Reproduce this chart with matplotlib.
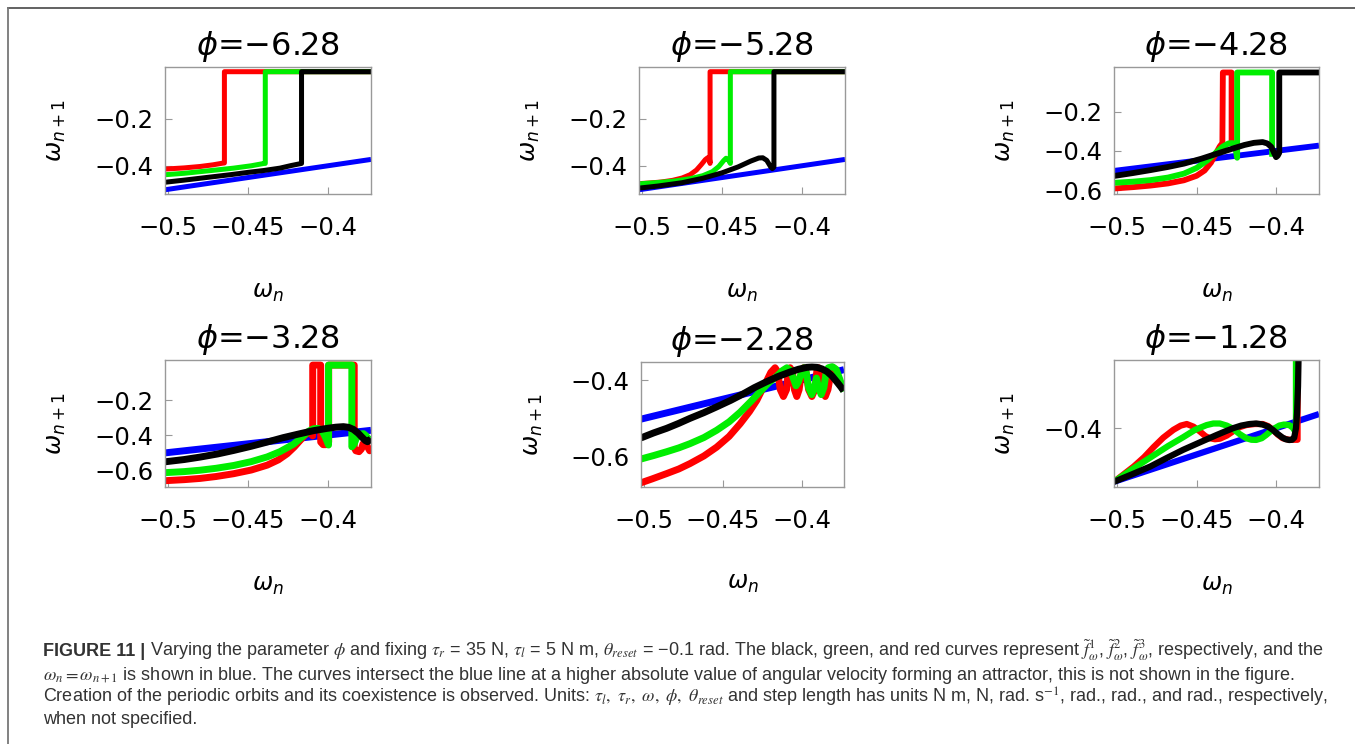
import matplotlib
matplotlib.use('Agg')
import matplotlib.pyplot as plt
from matplotlib.lines import Line2D

# ---- data (omega_n, omega_n+1) ----
titles = ["−6.28", "−5.28", "−4.28", "−3.28", "−2.28", "−1.28"]
xtick_vals = [-0.5, -0.45, -0.4]
xtick_labels = ["−0.5", "−0.45", "−0.4"]
ytick_vals = [[-0.2, -0.4], [-0.2, -0.4], [-0.2, -0.4, -0.6],
              [-0.2, -0.4, -0.6], [-0.4, -0.6], [-0.4]]
ytick_labels = [["−0.2", "−0.4"], ["−0.2", "−0.4"], ["−0.2", "−0.4", "−0.6"],
                ["−0.2", "−0.4", "−0.6"], ["−0.4", "−0.6"], ["−0.4"]]
blue_line = [-0.502, -0.373]

# phi = -6.28
p1_red = [(-0.502, -0.414), (-0.49, -0.409), (-0.48, -0.403), (-0.472, -0.396),
          (-0.466, -0.389), (-0.4648, -0.388), (-0.4648, 0.0), (-0.373, 0.0)]
p1_green = [(-0.502, -0.438), (-0.49, -0.432), (-0.48, -0.425), (-0.47, -0.418),
            (-0.459, -0.41), (-0.448, -0.4), (-0.44, -0.39), (-0.4392, -0.39),
            (-0.4392, 0.0), (-0.373, 0.0)]
p1_black = [(-0.502, -0.47), (-0.49, -0.461), (-0.48, -0.453), (-0.47, -0.445),
            (-0.46, -0.437), (-0.45, -0.428), (-0.44, -0.42), (-0.43, -0.41),
            (-0.423, -0.399), (-0.4165, -0.39), (-0.4165, 0.0), (-0.373, 0.0)]
# phi = -5.28
p2_red = [(-0.502, -0.476), (-0.495, -0.473), (-0.488, -0.469), (-0.481, -0.462),
          (-0.475, -0.452), (-0.47, -0.438), (-0.466, -0.418), (-0.463, -0.395),
          (-0.4605, -0.374), (-0.459, -0.366), (-0.4578, -0.375), (-0.4575, -0.39),
          (-0.4575, 0.0), (-0.373, 0.0)]
p2_green = [(-0.502, -0.477), (-0.49, -0.471), (-0.48, -0.465), (-0.47, -0.455),
            (-0.462, -0.442), (-0.456, -0.425), (-0.452, -0.403), (-0.449, -0.378),
            (-0.4475, -0.368), (-0.446, -0.375), (-0.4448, -0.39), (-0.4448, 0.0),
            (-0.373, 0.0)]
p2_black = [(-0.502, -0.495), (-0.49, -0.486), (-0.475, -0.472), (-0.462, -0.453),
            (-0.45, -0.43), (-0.44, -0.405), (-0.432, -0.38), (-0.427, -0.367),
            (-0.4245, -0.366), (-0.422, -0.377), (-0.4195, -0.405), (-0.4185, -0.412),
            (-0.4175, -0.405), (-0.4175, 0.0), (-0.373, 0.0)]
# phi = -4.28
p3_red = [(-0.502, -0.592), (-0.49, -0.585), (-0.479, -0.577), (-0.468, -0.566),
          (-0.458, -0.55), (-0.45, -0.527), (-0.445, -0.5), (-0.441, -0.46),
          (-0.438, -0.415), (-0.4355, -0.378), (-0.4338, -0.36), (-0.4335, 0.0),
          (-0.428, 0.0), (-0.428, -0.36)]
p3_green = [(-0.502, -0.563), (-0.49, -0.557), (-0.479, -0.549), (-0.468, -0.536),
            (-0.458, -0.516), (-0.45, -0.487), (-0.443, -0.447), (-0.438, -0.41),
            (-0.4335, -0.378), (-0.43, -0.362), (-0.4275, -0.36), (-0.4255, -0.39),
            (-0.4245, -0.435), (-0.4245, 0.0), (-0.4025, 0.0), (-0.4025, -0.43)]
p3_black = [(-0.502, -0.528), (-0.49, -0.513), (-0.479, -0.498), (-0.468, -0.482),
            (-0.458, -0.465), (-0.447, -0.44), (-0.4375, -0.415), (-0.428, -0.39),
            (-0.42, -0.37), (-0.414, -0.359), (-0.4085, -0.355), (-0.4055, -0.362),
            (-0.403, -0.38), (-0.401, -0.415), (-0.4, -0.432), (-0.399, -0.425),
            (-0.398, -0.41), (-0.398, 0.0), (-0.373, 0.0)]
# phi = -3.28
p4_red = [(-0.502, -0.661), (-0.49, -0.655), (-0.48, -0.648), (-0.47, -0.637),
          (-0.459, -0.621), (-0.448, -0.6), (-0.438, -0.572), (-0.431, -0.542),
          (-0.4255, -0.507), (-0.421, -0.468), (-0.4175, -0.432), (-0.414, -0.398),
          (-0.4115, -0.385), (-0.4095, -0.405), (-0.4095, 0.0), (-0.4045, 0.0),
          (-0.4045, -0.44), (-0.403, -0.455), (-0.401, -0.455), (-0.3995, -0.44),
          (-0.3995, 0.0), (-0.3835, 0.0), (-0.3835, -0.47), (-0.3825, -0.49),
          (-0.3805, -0.495), (-0.379, -0.48), (-0.378, -0.45), (-0.3765, -0.44),
          (-0.375, -0.47), (-0.3738, -0.49), (-0.373, -0.47)]
p4_green = [(-0.502, -0.615), (-0.49, -0.609), (-0.48, -0.601), (-0.47, -0.59),
            (-0.459, -0.574), (-0.448, -0.552), (-0.438, -0.525), (-0.43, -0.495),
            (-0.4215, -0.452), (-0.416, -0.41), (-0.412, -0.378), (-0.409, -0.364),
            (-0.406, -0.362), (-0.4035, -0.378), (-0.4017, -0.41), (-0.3996, -0.457),
            (-0.3996, 0.0), (-0.385, 0.0), (-0.385, -0.467), (-0.3835, -0.45),
            (-0.382, -0.415), (-0.38, -0.395), (-0.3777, -0.392), (-0.376, -0.405),
            (-0.3745, -0.425), (-0.373, -0.43)]
p4_black = [(-0.502, -0.553), (-0.49, -0.54), (-0.48, -0.526), (-0.469, -0.508),
            (-0.459, -0.488), (-0.448, -0.464), (-0.438, -0.44), (-0.428, -0.415),
            (-0.4173, -0.392), (-0.409, -0.375), (-0.4006, -0.362), (-0.395, -0.355),
            (-0.3903, -0.352), (-0.387, -0.356), (-0.384, -0.368), (-0.381, -0.39),
            (-0.3787, -0.412), (-0.3765, -0.432), (-0.3752, -0.438), (-0.374, -0.43),
            (-0.373, -0.42)]
# phi = -2.28
p5_red = [(-0.502, -0.668), (-0.495, -0.658), (-0.4857, -0.644), (-0.478, -0.632),
          (-0.4709, -0.618), (-0.462, -0.598), (-0.4539, -0.575), (-0.446, -0.547),
          (-0.439, -0.514), (-0.433, -0.482), (-0.4284, -0.453), (-0.425, -0.425),
          (-0.422, -0.401), (-0.4195, -0.38), (-0.4168, -0.368), (-0.4152, -0.378),
          (-0.4135, -0.425), (-0.4115, -0.443), (-0.4095, -0.425), (-0.4085, -0.378),
          (-0.4072, -0.368), (-0.4058, -0.378), (-0.4045, -0.425), (-0.403, -0.443),
          (-0.4015, -0.425), (-0.4, -0.378), (-0.3987, -0.368), (-0.3972, -0.378),
          (-0.3955, -0.425), (-0.3934, -0.443), (-0.3915, -0.425), (-0.3903, -0.378),
          (-0.3891, -0.368), (-0.3877, -0.378), (-0.3865, -0.425), (-0.3849, -0.443),
          (-0.3832, -0.425), (-0.3812, -0.378), (-0.3796, -0.368), (-0.378, -0.376),
          (-0.376, -0.4), (-0.3745, -0.418), (-0.3732, -0.426)]
p5_green = [(-0.502, -0.606), (-0.494, -0.597), (-0.4857, -0.587), (-0.478, -0.577),
            (-0.4709, -0.566), (-0.462, -0.55), (-0.4539, -0.531), (-0.446, -0.509),
            (-0.439, -0.484), (-0.432, -0.455), (-0.4263, -0.43), (-0.421, -0.408),
            (-0.4157, -0.39), (-0.412, -0.375), (-0.4093, -0.368), (-0.407, -0.375),
            (-0.405, -0.398), (-0.4035, -0.415), (-0.402, -0.405), (-0.4, -0.38),
            (-0.3985, -0.368), (-0.397, -0.38), (-0.3955, -0.42), (-0.3935, -0.438),
            (-0.3918, -0.42), (-0.3905, -0.395), (-0.3892, -0.42), (-0.3875, -0.438),
            (-0.3858, -0.42), (-0.3845, -0.385), (-0.383, -0.368), (-0.3805, -0.365),
            (-0.378, -0.372), (-0.3755, -0.4), (-0.3732, -0.43)]
p5_black = [(-0.502, -0.551), (-0.494, -0.538), (-0.4857, -0.526), (-0.478, -0.513),
            (-0.4709, -0.5), (-0.462, -0.485), (-0.4539, -0.47), (-0.445, -0.453),
            (-0.437, -0.436), (-0.43, -0.42), (-0.422, -0.404), (-0.415, -0.391),
            (-0.4072, -0.379), (-0.402, -0.372), (-0.3966, -0.367), (-0.3934, -0.366),
            (-0.3902, -0.367), (-0.387, -0.371), (-0.3838, -0.378), (-0.3805, -0.39),
            (-0.3775, -0.405), (-0.375, -0.418), (-0.3732, -0.428)]
# phi = -1.28
p6_red = [(-0.502, -0.502), (-0.496, -0.488), (-0.4896, -0.473), (-0.483, -0.455),
          (-0.4771, -0.436), (-0.471, -0.418), (-0.4646, -0.403), (-0.46, -0.395),
          (-0.4562, -0.392), (-0.452, -0.397), (-0.448, -0.406), (-0.4445, -0.415),
          (-0.4417, -0.419), (-0.4385, -0.421), (-0.4354, -0.42), (-0.431, -0.414),
          (-0.4271, -0.406), (-0.423, -0.398), (-0.4188, -0.394), (-0.4135, -0.392),
          (-0.4084, -0.392), (-0.405, -0.396), (-0.4021, -0.403), (-0.399, -0.412),
          (-0.3959, -0.419), (-0.392, -0.422), (-0.3865, -0.422), (-0.3865, -0.27)]
p6_green = [(-0.502, -0.502), (-0.49, -0.477), (-0.4792, -0.456), (-0.468, -0.434),
            (-0.4584, -0.417), (-0.451, -0.403), (-0.4437, -0.394), (-0.4395, -0.391),
            (-0.4354, -0.391), (-0.431, -0.395), (-0.4271, -0.401), (-0.423, -0.411),
            (-0.4188, -0.419), (-0.4155, -0.422), (-0.4125, -0.4223), (-0.409, -0.419),
            (-0.4063, -0.413), (-0.402, -0.402), (-0.398, -0.395), (-0.395, -0.393),
            (-0.3917, -0.394), (-0.3895, -0.399), (-0.3882, -0.405), (-0.3875, -0.39),
            (-0.3875, -0.27)]
p6_black = [(-0.502, -0.502), (-0.49, -0.487), (-0.4792, -0.473), (-0.469, -0.457),
            (-0.4584, -0.441), (-0.448, -0.427), (-0.4375, -0.413), (-0.432, -0.406),
            (-0.4271, -0.4), (-0.422, -0.395), (-0.4167, -0.392), (-0.4125, -0.391),
            (-0.4084, -0.393), (-0.405, -0.397), (-0.4021, -0.403), (-0.399, -0.411),
            (-0.3959, -0.418), (-0.394, -0.421), (-0.3917, -0.4225), (-0.39, -0.422),
            (-0.3886, -0.418), (-0.3875, -0.4), (-0.3868, -0.37), (-0.3862, -0.32),
            (-0.3859, -0.27)]

curves = [(p1_red, p1_green, p1_black), (p2_red, p2_green, p2_black),
          (p3_red, p3_green, p3_black), (p4_red, p4_green, p4_black),
          (p5_red, p5_green, p5_black), (p6_red, p6_green, p6_black)]

caption_head = "FIGURE 11 |"
caption_lines = [
    r" Varying the parameter $\phi$ and fixing $\tau_r$ = 35 N, $\tau_l$ = 5 N m, $\theta_{reset}$ = −0.1 rad. "
    r"The black, green, and red curves represent $\tilde{f}^1_\omega$, $\tilde{f}^2_\omega$, $\tilde{f}^3_\omega$, respectively, and the",
    r"$\omega_n = \omega_{n+1}$ is shown in blue. The curves intersect the blue line at a higher absolute value of angular velocity forming an attractor, this is not shown in the figure.",
    r"Creation of the periodic orbits and its coexistence is observed. Units: $\tau_l,\ \tau_r,\ \omega,\ \phi,\ \theta_{reset}$ and step length has units N m, N, rad. s$^{-1}$, rad., rad., and rad., respectively,",
    "when not specified.",
]

# ---- layout ----
W, H = 1355, 744
fig = plt.figure(figsize=(W / 100, H / 100), dpi=100)
fig.patch.set_facecolor('white')

# axes boxes in pixels: left, top, right, bottom
boxes = [(165, 67, 371, 194), (639, 67, 845, 194), (1114, 67, 1319, 194),
         (165, 360, 371, 487), (641, 362, 844, 487), (1114, 360, 1319, 487)]
ylims = [(-0.52, 0.02), (-0.52, 0.02), (-0.62, 0.028),
         (-0.697, 0.029), (-0.679, -0.353), (-0.512, -0.27)]
widths = [3.6, 3.6, 4.2, 5.0, 5.0, 4.5]

for i, (l, t, r, b) in enumerate(boxes):
    ax = fig.add_axes([l / W, 1 - b / H, (r - l) / W, (b - t) / H])
    lw = widths[i]
    ax.plot(blue_line, blue_line, color='#0000ff', lw=lw, solid_capstyle='butt')
    for pts, col in zip(curves[i], ['#ff0000', '#00ee00', '#000000']):
        xs = [p[0] for p in pts]
        ys = [p[1] for p in pts]
        ax.plot(xs, ys, color=col, lw=lw, solid_joinstyle='round', solid_capstyle='butt')
    ax.set_xlim(-0.502, -0.373)
    ax.set_ylim(*ylims[i])
    ax.set_xticks(xtick_vals, xtick_labels)
    ax.set_yticks(ytick_vals[i], ytick_labels[i])
    ax.tick_params(direction='in', length=5, width=0.8, color='#999999',
                   labelsize=17.5, top=False, right=False)
    ax.tick_params(axis='x', pad=16)
    ax.tick_params(axis='y', pad=8)
    for s in ax.spines.values():
        s.set_color('#999999')
        s.set_linewidth(1)
    ax.set_title(r'$\phi$=' + titles[i], fontsize=23, pad=8.5)
    ax.set_xlabel(r'$\omega_n$', fontsize=17.5, va='center')
    ax.xaxis.set_label_coords(0.5, -0.77)
    ax.set_ylabel(r'$\omega_{n+1}$', fontsize=17.5, va='center')
    ax.yaxis.set_label_coords(-0.53, 0.5)

# page frame
fig.add_artist(Line2D([8 / W, 1], [1 - 8 / H, 1 - 8 / H], transform=fig.transFigure,
                      color='#555555', lw=1.3))
fig.add_artist(Line2D([8 / W, 8 / W], [0, 1 - 8 / H], transform=fig.transFigure,
                      color='#777777', lw=1.3))

# caption
cap_font = ['Liberation Sans Narrow', 'Liberation Sans']
baselines = [656.5, 679.5, 702.5, 724.5]
renderer = fig.canvas.get_renderer()
head = fig.text(43 / W, 1 - baselines[0] / H, caption_head, fontsize=13, fontweight='bold',
                family=cap_font, color='#333333', va='baseline')
bb = head.get_window_extent(renderer)
for k, line in enumerate(caption_lines):
    x0 = bb.x1 / W if k == 0 else 43 / W
    fig.text(x0, 1 - baselines[k] / H, line, fontsize=13, family=cap_font,
             color='#333333', va='baseline', math_fontfamily='stix')

fig.savefig('out.png', dpi=100)
